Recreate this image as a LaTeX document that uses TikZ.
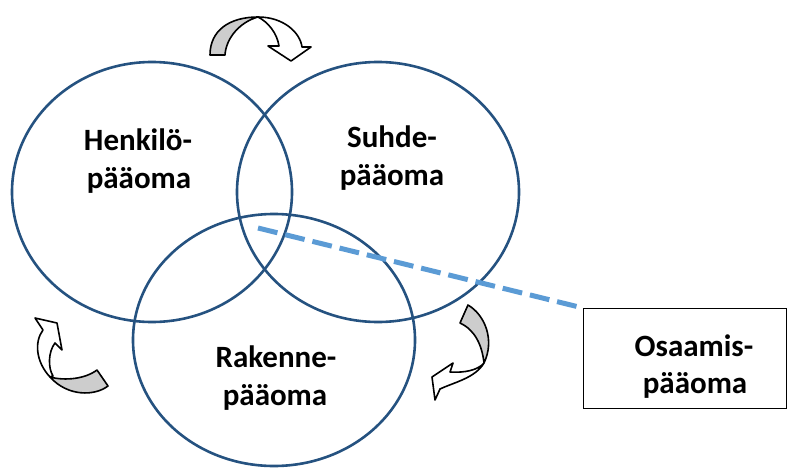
\documentclass[tikz,border=0pt]{standalone}
\usepackage{fontspec}
\setmainfont{Carlito}
\usetikzlibrary{shapes.geometric}
\definecolor{circblue}{RGB}{37,82,128}
\definecolor{dashblue}{RGB}{91,155,213}
\definecolor{arrgray}{RGB}{205,205,205}
\tikzset{
  ring/.style={draw=circblue, line width=2.6pt, ellipse, inner sep=0pt},
  lbl/.style={anchor=base, inner sep=0pt, font=\bfseries\fontsize{31}{37}\selectfont},
  arrowline/.style={draw=black, line width=1.6pt, line join=round},
  dashlink/.style={draw=dashblue, line width=5pt, dash pattern=on 20pt off 8pt},
}
\begin{document}
\begin{tikzpicture}[x=1pt,y=-1pt]
\useasboundingbox (0,0) rectangle (791,468);
% ellipses
\node[ring, minimum width=280pt, minimum height=260pt] (hen) at (152,192) {};
\node[ring, minimum width=282pt, minimum height=260pt] (suh) at (378,192) {};
\node[ring, minimum width=282pt, minimum height=252pt] (rak) at (274,340) {};
% labels
\node[lbl] (h1) at (138,150) {Henkilö-};
\node[lbl] (h2) at (139,188) {pääoma};
\node[lbl] (s1) at (392,147) {Suhde-};
\node[lbl] (s2) at (392,185) {pääoma};
\node[lbl] (r1) at (276,367) {Rakenne-};
\node[lbl] (r2) at (275,405) {pääoma};
% box
\node[draw=black, line width=1.3pt, fill=white, minimum width=203pt, minimum height=100pt, anchor=north west, inner sep=0pt] (box) at (583,308) {};
\node[lbl] (o1) at (694,356) {Osaamis-};
\node[lbl] (o2) at (695,393) {pääoma};
% dashed link
\coordinate (ds) at (258,228);
\draw[dashlink] (ds) -- (box.north west);
% top arrow
\draw[arrowline, fill=white] (258,17) .. controls (283,17) and (300,32) .. (302,47) -- (311,47) -- (291,61) -- (268,46) -- (279,46) .. controls (277,33) and (268,22) .. (258,17) -- cycle;
\draw[arrowline, fill=arrgray] (210,55) .. controls (210,30) and (230,17) .. (258,17) .. controls (240,22) and (226,38) .. (225,55) -- cycle;
% left arrow
\draw[arrowline, fill=white] (50,377) .. controls (36,362) and (34,342) .. (43,330) -- (35,318) -- (57,323) -- (62,350) -- (55,343) .. controls (48,352) and (48,368) .. (53,376) -- cycle;
\draw[arrowline, fill=arrgray] (97,370) -- (108,386) .. controls (95,396) and (68,397) .. (50,377) .. controls (65,381) and (85,379) .. (97,370) -- cycle;
% right arrow
\draw[arrowline, fill=white] (484,363) .. controls (475,378) and (455,382) .. (440,389) -- (435,400) -- (432,377) -- (453,363) -- (450,372) .. controls (465,373) and (478,370) .. (484,363) -- cycle;
\draw[arrowline, fill=arrgray] (460,323) -- (468,305) .. controls (485,315) and (495,340) .. (484,363) .. controls (482,345) and (475,330) .. (460,323) -- cycle;
\end{tikzpicture}
\end{document}
